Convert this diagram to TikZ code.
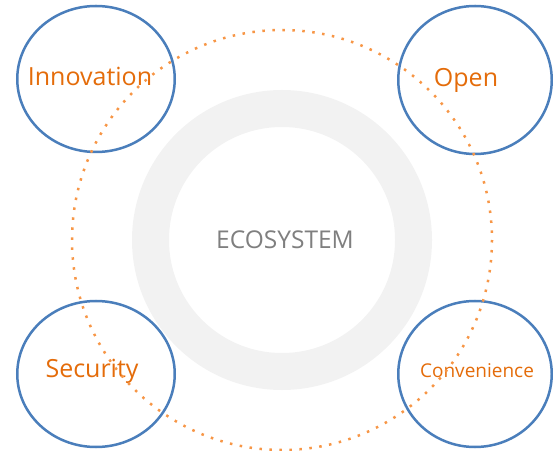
\documentclass[tikz,border=0pt]{standalone}
\usepackage{fontspec}
\setmainfont{Open Sans}
\usetikzlibrary{
  shapes.geometric, % for the ellipse shape of the four values
}
\definecolor{ringgray}{HTML}{F2F2F2}
\definecolor{ellblue}{HTML}{4A7EBB}
\definecolor{valorange}{HTML}{E46C0A}
\definecolor{dotorange}{HTML}{F79646}
\definecolor{midgray}{HTML}{7F7F7F}
\tikzset{
  pillar/.style={ % style for the four surrounding values
    ellipse,draw=ellblue, % drawn as a blue ellipse
    line width=2.5bp, % fairly thick outline
    inner sep=0pt, % no padding, the size is set by hand
  },
  value/.style={ % style for the value names
    text=valorange, % orange text
    inner sep=0pt,
    font=\fontsize{25bp}{29bp}\selectfont,
  },
  ring/.style={ % style for the grey ring round the core
    draw=ringgray,
    line width=37bp,
  },
  orbit/.style={ % style for the dotted orbit
    draw=dotorange,
    line width=2.5bp,
    dash pattern=on 2.5bp off 7.5bp, % square dots
  },
}
\begin{document}
\begin{tikzpicture}[x=1bp,y=-1bp]
\useasboundingbox (0,0) rectangle (553,451);
\node[inner sep=0pt, text=midgray, font=\fontsize{24.5bp}{29bp}\selectfont] (eco) at (285,240) {ECOSYSTEM};
\coordinate (core) at (282,240);
\draw[ring] (core) circle (131.5);
\node[pillar, minimum width=157.5bp, minimum height=146bp] (inno) at (96,79) {};
\node[pillar, minimum width=153.5bp, minimum height=148bp] (open) at (475,80) {};
\node[pillar, minimum width=157.5bp, minimum height=146bp] (secu) at (96,374) {};
\node[pillar, minimum width=153.5bp, minimum height=146bp] (conv) at (475,374) {};
\node[value] (innotext) at (90,76) {Innovation};
\node[value] (opentext) at (466,80) {Open};
\node[value] (secutext) at (92,371) {Security};
\node[value, font=\fontsize{19bp}{23bp}\selectfont] (convtext) at (477,371) {Convenience};
\draw[orbit] (core) circle (210);
\end{tikzpicture}
\end{document}
